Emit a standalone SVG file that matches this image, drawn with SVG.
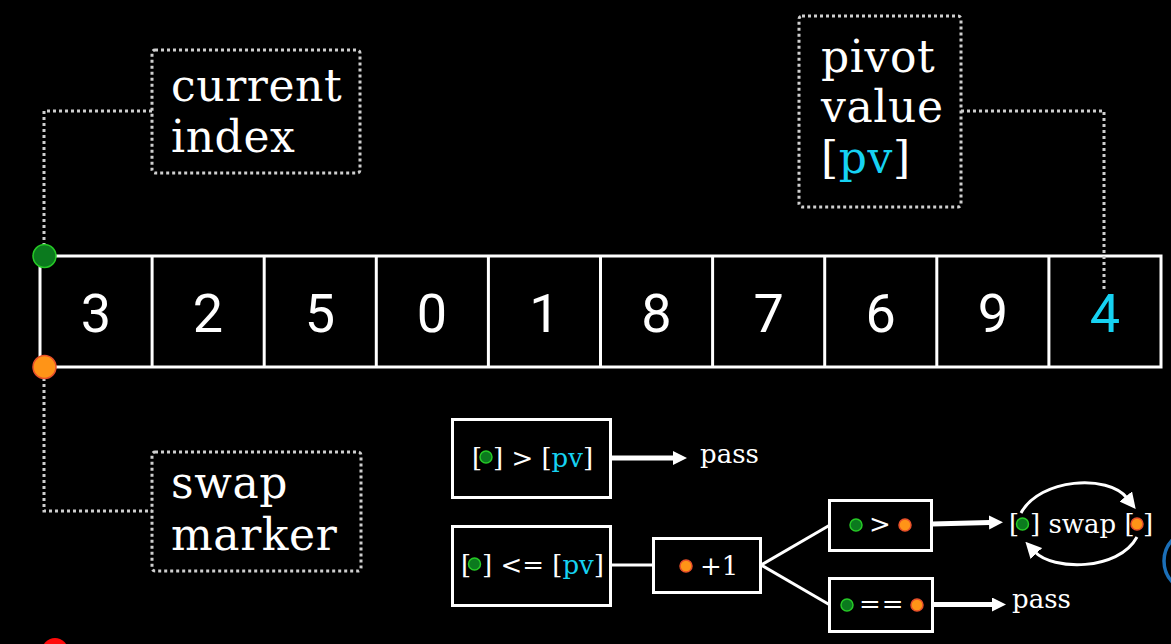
<svg xmlns="http://www.w3.org/2000/svg" width="1171" height="644" viewBox="0 0 1171 644">
<defs>
<style>
.dot{fill:none;stroke:#cfcfcf;stroke-width:3;stroke-dasharray:3 3}
.cell{fill:#000;stroke:#fff;stroke-width:3}
.num{font-family:Roboto,"Noto Sans",sans-serif;font-size:54px;fill:#fff;text-anchor:middle}
.lbl{font-family:"DejaVu Serif",serif;font-size:44px;fill:#fff;letter-spacing:0.6px}
.op{font-family:"DejaVu Serif",serif;font-size:26px;fill:#fff}
.cy{fill:#16d2f2}
.box{fill:#000;stroke:#fff;stroke-width:3}
.g{fill:#0b7a1e;stroke:#26c926;stroke-width:1.5}
.o{fill:#ff9417;stroke:#e8502a;stroke-width:1.5}
.wire{fill:none;stroke:#fff;stroke-width:3}
.arr{fill:none;stroke:#fff;stroke-width:5}
.arc{fill:none;stroke:#fff;stroke-width:3}
</style>
<marker id="ah" viewBox="0 0 14 14" refX="1" refY="7" markerWidth="14" markerHeight="14" markerUnits="userSpaceOnUse" orient="auto">
<path d="M0,0 L14,7 L0,14 Z" fill="#fff"/>
</marker>
<marker id="ah2" viewBox="0 0 16 16" refX="2" refY="8" markerWidth="16" markerHeight="16" markerUnits="userSpaceOnUse" orient="auto">
<path d="M0,0 L16,8 L0,16 Z" fill="#fff"/>
</marker>
</defs>
<rect width="1171" height="644" fill="#000"/>

<g id="array">
<rect class="cell" x="40" y="256" width="1121" height="111"/>
<line class="cell" x1="152.1" y1="256" x2="152.1" y2="367"/>
<line class="cell" x1="264.2" y1="256" x2="264.2" y2="367"/>
<line class="cell" x1="376.3" y1="256" x2="376.3" y2="367"/>
<line class="cell" x1="488.4" y1="256" x2="488.4" y2="367"/>
<line class="cell" x1="600.5" y1="256" x2="600.5" y2="367"/>
<line class="cell" x1="712.6" y1="256" x2="712.6" y2="367"/>
<line class="cell" x1="824.7" y1="256" x2="824.7" y2="367"/>
<line class="cell" x1="936.8" y1="256" x2="936.8" y2="367"/>
<line class="cell" x1="1048.9" y1="256" x2="1048.9" y2="367"/>
<text class="num" x="96" y="332">3</text>
<text class="num" x="208" y="332">2</text>
<text class="num" x="320" y="332">5</text>
<text class="num" x="432" y="332">0</text>
<text class="num" x="544.5" y="332">1</text>
<text class="num" x="656.5" y="332">8</text>
<text class="num" x="768.7" y="332">7</text>
<text class="num" x="880.8" y="332">6</text>
<text class="num" x="993" y="332">9</text>
<text class="num cy" x="1105" y="332">4</text>
</g>

<g id="connectors">
<path class="dot" d="M152,111 H44 V250"/>
<path class="dot" d="M44,372 V511 H152"/>
<path class="dot" d="M961,111 H1104 V292"/>
<line class="arr" x1="612" y1="458" x2="674" y2="458" marker-end="url(#ah)"/>
<line class="wire" x1="611" y1="565" x2="653" y2="565"/>
<line class="wire" x1="761" y1="565" x2="830" y2="525"/>
<line class="wire" x1="761" y1="565" x2="830" y2="605"/>
<line class="arr" x1="932" y1="524" x2="990" y2="522.5" marker-end="url(#ah)"/>
<line class="arr" x1="933" y1="604.5" x2="993" y2="604.5" marker-end="url(#ah)"/>
<path class="arc" d="M1021,513 C1040,478 1108,474 1127,498" marker-end="url(#ah2)"/>
<path class="arc" d="M1137,537 C1118,572 1052,570 1035,552" marker-end="url(#ah2)"/>
</g>

<g id="current-marker"><circle class="g" cx="44.5" cy="256" r="11.5" stroke-width="2"/></g>
<g id="swap-dot"><circle class="o" cx="44.5" cy="367" r="11.5" stroke-width="2"/></g>

<g id="current-index">
<rect class="dot" x="152" y="50" width="208" height="123" rx="3"/>
<text class="lbl" x="171" y="101">current</text>
<text class="lbl" x="171" y="152">index</text>
</g>

<g id="swap-marker">
<rect class="dot" x="152" y="452" width="209" height="119" rx="3"/>
<text class="lbl" x="171" y="498">swap</text>
<text class="lbl" x="171" y="550">marker</text>
</g>

<g id="pivot-value">
<rect class="dot" x="799" y="16" width="162" height="191" rx="3"/>
<text class="lbl" x="821" y="72">pivot</text>
<text class="lbl" x="821" y="122">value</text>
<text class="lbl" x="821" y="173">[<tspan class="cy">pv</tspan>]</text>
</g>

<g id="cond-gt">
<rect class="box" x="452.5" y="419.5" width="158" height="78"/>
<text class="op" x="472" y="467">[</text>
<circle class="g" cx="486" cy="457" r="6"/>
<text class="op" x="493" y="467">] &gt; [<tspan class="cy">pv</tspan>]</text>
</g>
<g id="pass-1"><text class="op" x="700" y="463">pass</text></g>

<g id="cond-le">
<rect class="box" x="452.5" y="526.5" width="158" height="79"/>
<text class="op" x="461" y="574">[</text>
<circle class="g" cx="474.5" cy="564" r="6"/>
<text class="op" x="482" y="574">] &lt;= [<tspan class="cy">pv</tspan>]</text>
</g>

<g id="inc">
<rect class="box" x="653.5" y="538.5" width="107" height="54"/>
<circle class="o" cx="686" cy="566" r="6"/>
<text class="op" x="700" y="575">+1</text>
</g>

<g id="cmp-gt">
<rect class="box" x="829.5" y="500.5" width="102" height="50"/>
<circle class="g" cx="856" cy="525" r="6"/>
<text class="op" x="869" y="533">&gt;</text>
<circle class="o" cx="905" cy="525" r="6"/>
</g>

<g id="swap">
<text class="op" x="1009" y="533">[</text>
<circle class="g" cx="1022.5" cy="524" r="6"/>
<text class="op" x="1030" y="533">] swap [</text>
<circle class="o" cx="1137" cy="524" r="6"/>
<text class="op" x="1143" y="533">]</text>
</g>

<g id="cmp-eq">
<rect class="box" x="829.5" y="578.5" width="103" height="53"/>
<circle class="g" cx="847" cy="605" r="6"/>
<text class="op" x="859" y="613" letter-spacing="1">==</text>
<circle class="o" cx="917" cy="605" r="6"/>
</g>
<g id="pass-2"><text class="op" x="1012" y="608">pass</text></g>

<g id="red-dot"><circle cx="55" cy="651" r="13" fill="#ff0a0a"/></g>
<g id="blue-ring"><circle cx="1195" cy="561" r="31" fill="none" stroke="#1b6fb8" stroke-width="3.5"/></g>
</svg>
